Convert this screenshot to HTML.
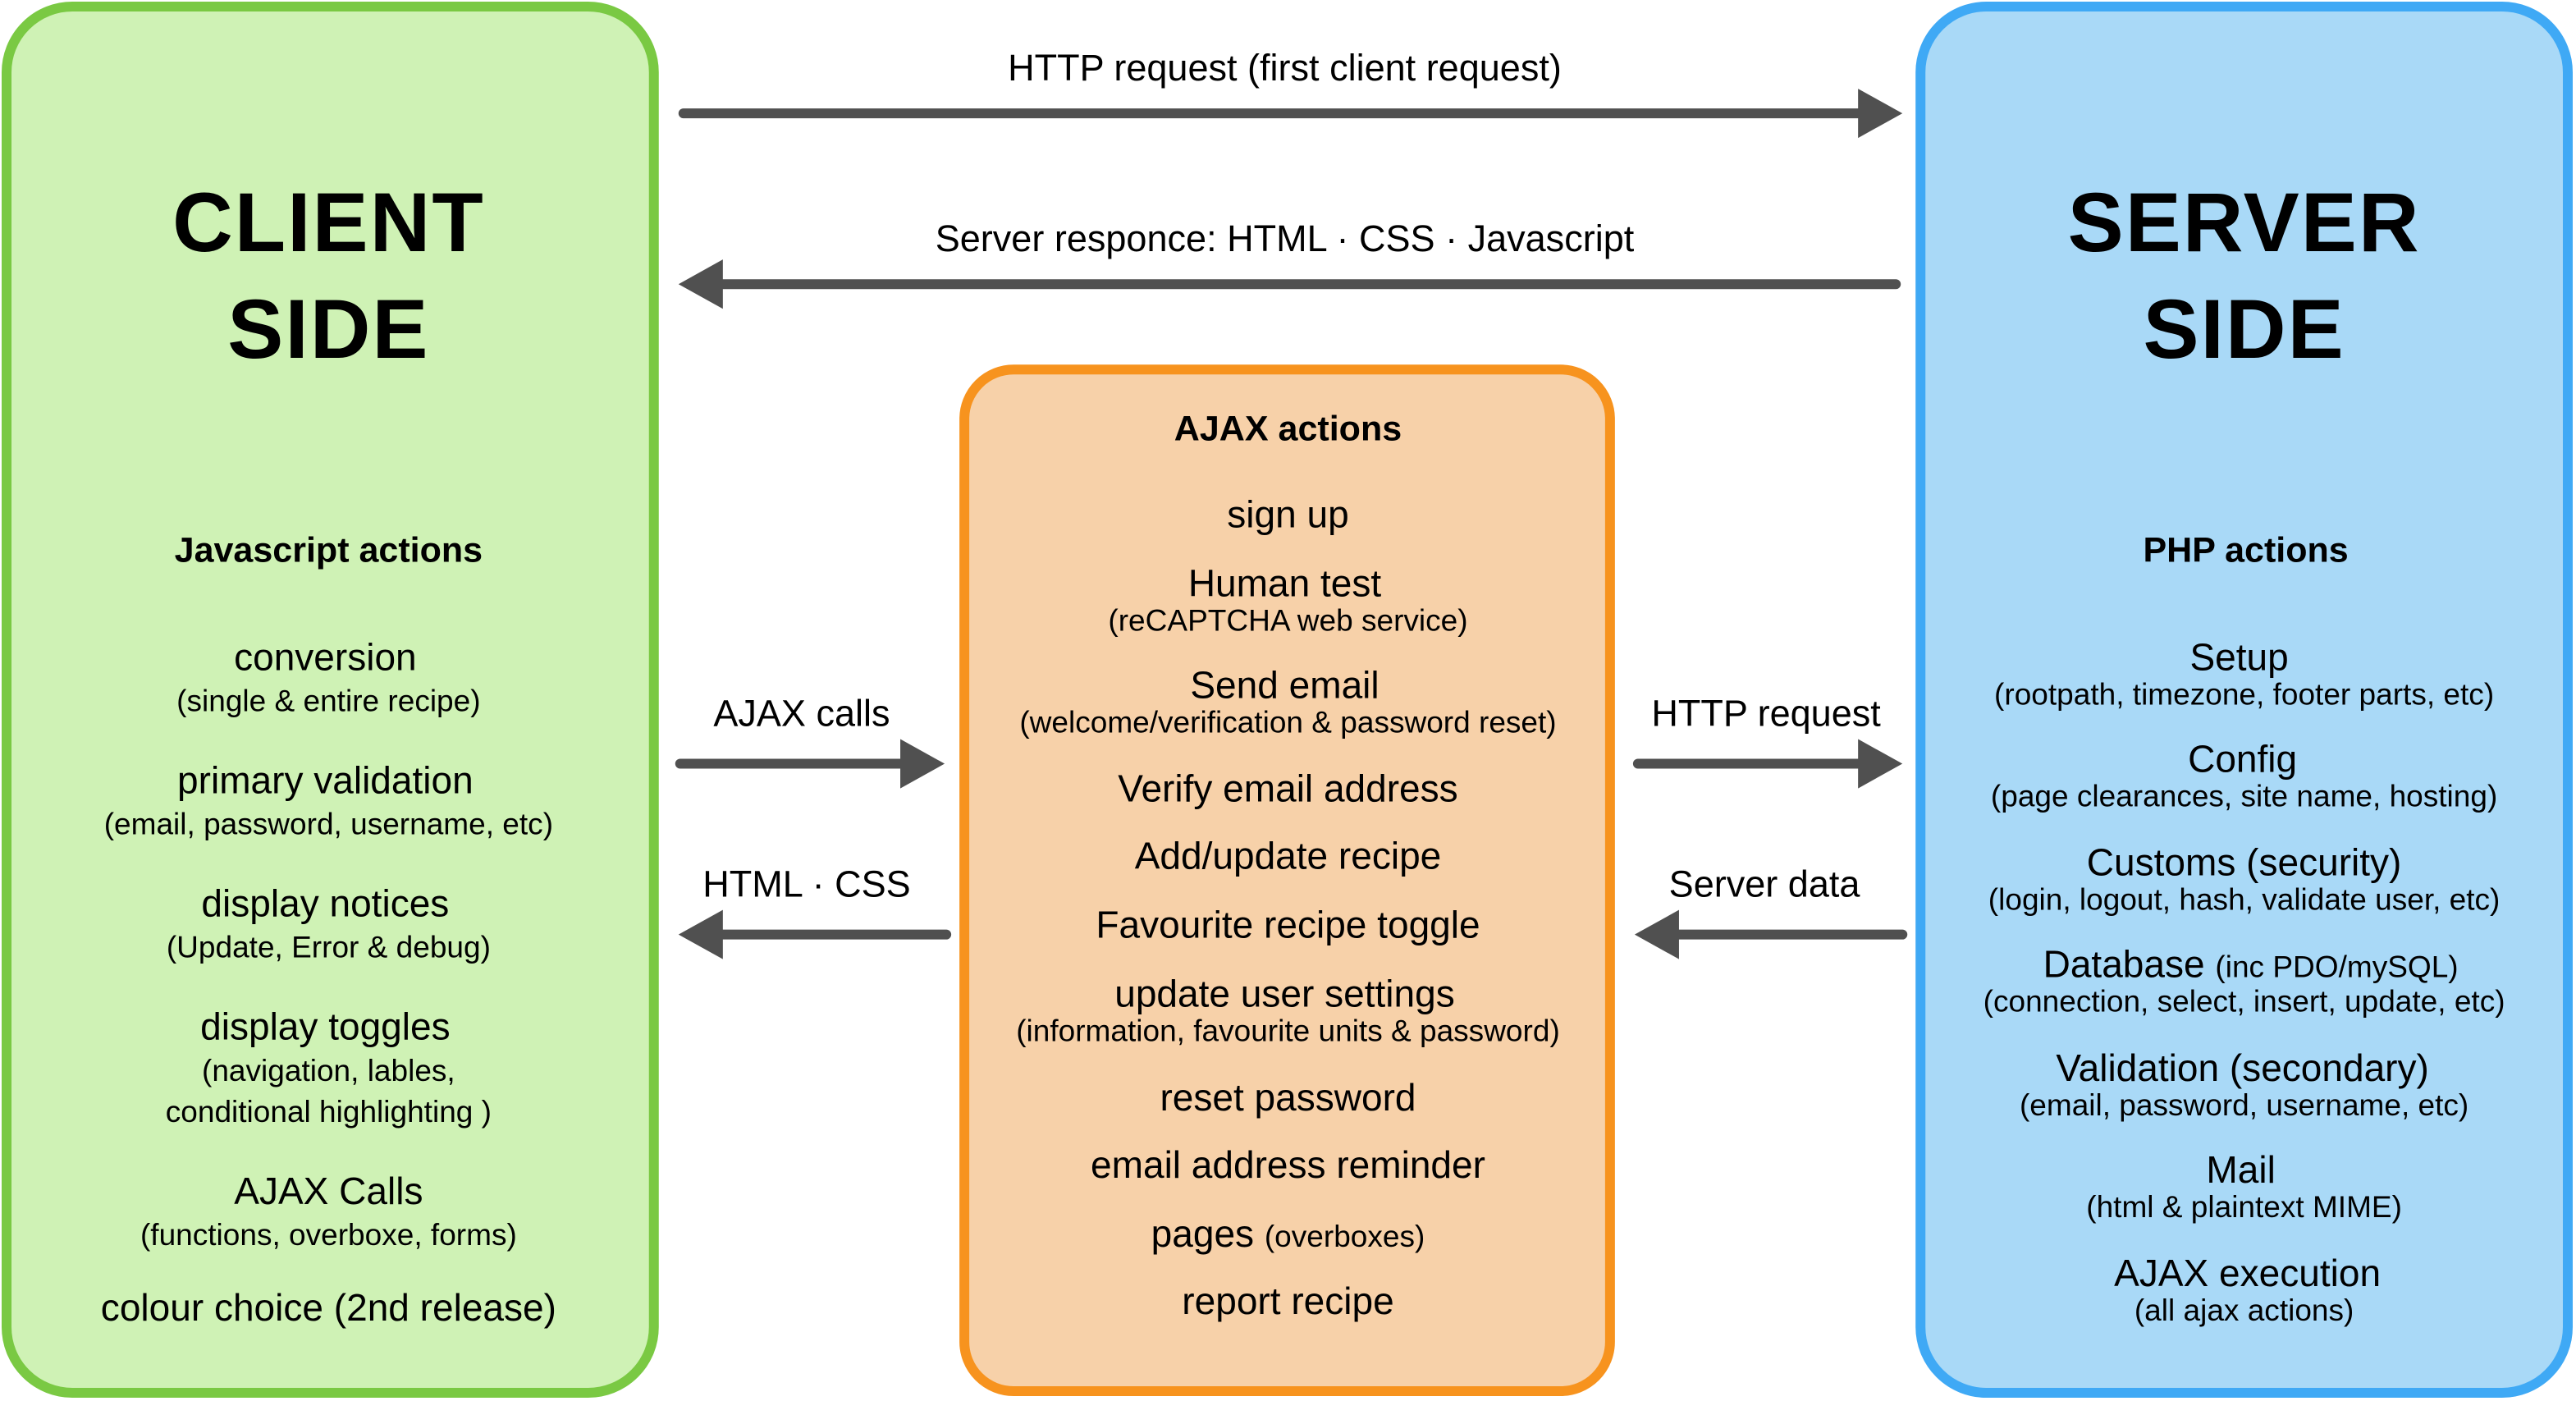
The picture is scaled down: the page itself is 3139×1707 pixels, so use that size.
<!DOCTYPE html>
<html><head><meta charset="utf-8"><style>
html,body{margin:0;padding:0;background:#fff;}
svg{display:block;}
text{font-family:"Liberation Sans",sans-serif;fill:#000;text-anchor:middle;}
.m{font-size:23px;}
.s{font-size:18.5px;}
.b{font-weight:bold;font-size:21.5px;}
.h{font-weight:bold;font-size:51px;letter-spacing:1px;}
.l{font-size:22.5px;}
</style></head><body>
<svg width="3139" height="1707" viewBox="0 0 1568 853" preserveAspectRatio="none" xmlns="http://www.w3.org/2000/svg">
<rect x="4" y="4" width="394" height="844" rx="40" fill="#cff2b5" stroke="#7ac943" stroke-width="6"/>
<rect x="587" y="225" width="393" height="622" rx="30" fill="#f7d1a9" stroke="#f7931e" stroke-width="6"/>
<rect x="1169" y="4" width="394" height="844" rx="40" fill="#a9d9f7" stroke="#3fa9f5" stroke-width="6"/>
<g stroke="#505050" stroke-width="6" stroke-linecap="round" fill="none">
<line x1="416" y1="69" x2="1133" y2="69"/>
<line x1="440" y1="173" x2="1154" y2="173"/>
<line x1="414" y1="465" x2="550" y2="465"/>
<line x1="440" y1="569" x2="576" y2="569"/>
<line x1="997" y1="465" x2="1133" y2="465"/>
<line x1="1022" y1="569" x2="1158" y2="569"/>
</g>
<g fill="#505050">
<polygon points="1131,54 1158,69 1131,84"/>
<polygon points="440,158 413,173 440,188"/>
<polygon points="548,450 575,465 548,480"/>
<polygon points="440,554 413,569 440,584"/>
<polygon points="1131,450 1158,465 1131,480"/>
<polygon points="1022,554 995,569 1022,584"/>
</g>
<text class="l" x="782" y="49">HTTP request (first client request)</text>
<text class="l" x="782" y="153">Server responce: HTML · CSS · Javascript</text>
<text class="l" x="488" y="442">AJAX calls</text>
<text class="l" x="491" y="546">HTML · CSS</text>
<text class="l" x="1075" y="442">HTTP request</text>
<text class="l" x="1074" y="546">Server data</text>

<text class="h" x="200" y="153">CLIENT</text>
<text class="h" x="200" y="218">SIDE</text>
<text class="h" x="1366" y="153">SERVER</text>
<text class="h" x="1366" y="218">SIDE</text>

<text class="b" x="200" y="342">Javascript actions</text>
<text class="m" x="198" y="408">conversion</text>
<text class="s" x="200" y="433">(single &amp; entire recipe)</text>
<text class="m" x="198" y="483">primary validation</text>
<text class="s" x="200" y="508">(email, password, username, etc)</text>
<text class="m" x="198" y="558">display notices</text>
<text class="s" x="200" y="583">(Update, Error &amp; debug)</text>
<text class="m" x="198" y="633">display toggles</text>
<text class="s" x="200" y="658">(navigation, lables,</text>
<text class="s" x="200" y="683">conditional highlighting )</text>
<text class="m" x="200" y="733">AJAX Calls</text>
<text class="s" x="200" y="758">(functions, overboxe, forms)</text>
<text class="m" x="200" y="804">colour choice (2nd release)</text>

<text class="b" x="784" y="268">AJAX actions</text>
<text class="m" x="784" y="321">sign up</text>
<text class="m" x="782" y="363">Human test</text>
<text class="s" x="784" y="384">(reCAPTCHA web service)</text>
<text class="m" x="782" y="425">Send email</text>
<text class="s" x="784" y="446">(welcome/verification &amp; password reset)</text>
<text class="m" x="784" y="488">Verify email address</text>
<text class="m" x="784" y="529">Add/update recipe</text>
<text class="m" x="784" y="571">Favourite recipe toggle</text>
<text class="m" x="782" y="613">update user settings</text>
<text class="s" x="784" y="634">(information, favourite units &amp; password)</text>
<text class="m" x="784" y="676">reset password</text>
<text class="m" x="784" y="717">email address reminder</text>
<text class="m" x="784" y="759">pages <tspan class="s">(overboxes)</tspan></text>
<text class="m" x="784" y="800">report recipe</text>

<text class="b" x="1367" y="342">PHP actions</text>
<text class="m" x="1363" y="408">Setup</text>
<text class="s" x="1366" y="429">(rootpath, timezone, footer parts, etc)</text>
<text class="m" x="1365" y="470">Config</text>
<text class="s" x="1366" y="491">(page clearances, site name, hosting)</text>
<text class="m" x="1366" y="533">Customs (security)</text>
<text class="s" x="1366" y="554">(login, logout, hash, validate user, etc)</text>
<text class="m" x="1370" y="595">Database <tspan class="s">(inc PDO/mySQL)</tspan></text>
<text class="s" x="1366" y="616">(connection, select, insert, update, etc)</text>
<text class="m" x="1365" y="658">Validation (secondary)</text>
<text class="s" x="1366" y="679">(email, password, username, etc)</text>
<text class="m" x="1364" y="720">Mail</text>
<text class="s" x="1366" y="741">(html &amp; plaintext MIME)</text>
<text class="m" x="1368" y="783">AJAX execution</text>
<text class="s" x="1366" y="804">(all ajax actions)</text>
</svg>
</body></html>
